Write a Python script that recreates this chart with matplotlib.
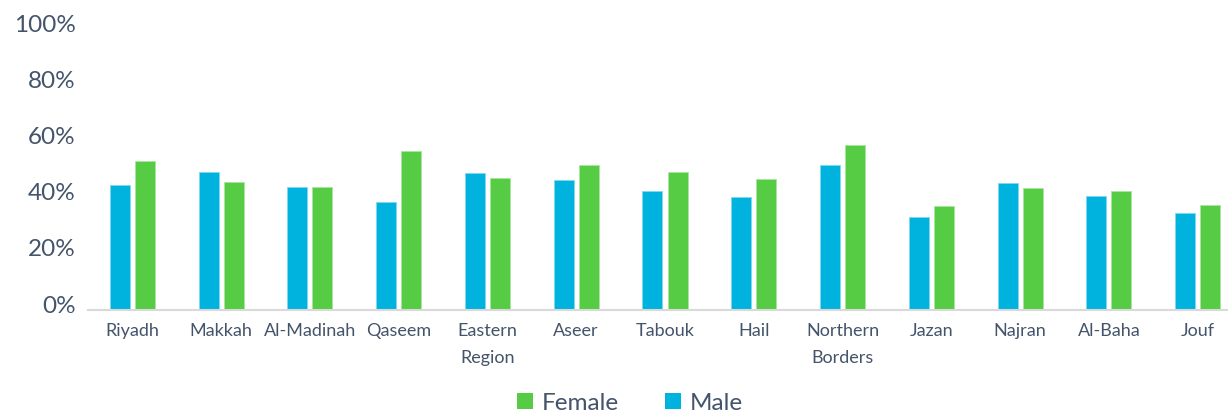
import matplotlib
matplotlib.use("Agg")
import matplotlib.pyplot as plt
import matplotlib.transforms as mtransforms
import numpy as np
from matplotlib.patches import Patch

categories = ["Riyadh", "Makkah", "Al-Madinah", "Qaseem", "Eastern\nRegion", "Aseer",
              "Tabouk", "Hail", "Northern\nBorders", "Jazan", "Najran", "Al-Baha", "Jouf"]
male = [44.6, 49.1, 43.7, 38.4, 48.6, 46.3, 42.3, 40.2, 51.6, 33.0, 45.3, 40.7, 34.5]
female = [53.0, 45.4, 43.7, 56.7, 47.1, 51.6, 49.1, 46.5, 58.7, 36.9, 43.4, 42.5, 37.3]
yticks = [0, 20, 40, 60, 80, 100]

MALE_C = "#00B2DE"
FEMALE_C = "#55CC44"
TEXT_C = "#44546A"
plt.rcParams['font.family'] = ['Lato', 'DejaVu Sans']

W, H = 1228, 415
fig = plt.figure(figsize=(W/100, H/100), dpi=100)
# axes from x=88 to 1242 px, y from 310 (0%) to 29 (100%)
ax = fig.add_axes([88/W, (H-310)/H, 1154/W, (310-29)/H])

x = np.arange(len(categories))
bw = 0.225
off = 0.141
ax.bar(x - off, male, width=bw, color=MALE_C, edgecolor="#7FD8EE", linewidth=0.6, zorder=2)
ax.bar(x + off, female, width=bw, color=FEMALE_C, edgecolor="#A9E5A1", linewidth=0.6, zorder=2)

ax.set_xlim(-0.5, len(categories) - 0.5)
ax.set_ylim(0, 100)
ax.set_yticks(yticks)
ax.set_yticklabels([f"{v}%" for v in yticks], fontsize=17.5, color=TEXT_C)
ax.set_xticks(x)
ax.set_xticklabels(categories, fontsize=13, color=TEXT_C, linespacing=1.85, va="top")
ax.tick_params(axis="both", length=0)
ax.tick_params(axis="y", pad=9)
ax.tick_params(axis="x", pad=9)
for lab in ax.get_yticklabels():
    lab.set_transform(lab.get_transform() + mtransforms.ScaledTranslation(0, 6/100, fig.dpi_scale_trans))

for s in ["top", "right", "left"]:
    ax.spines[s].set_visible(False)
ax.spines["bottom"].set_color("#D9D9D9")
ax.spines["bottom"].set_linewidth(1.5)

handles = [Patch(facecolor=FEMALE_C, label="Female"), Patch(facecolor=MALE_C, label="Male")]
fig.legend(handles=handles, loc="center", bbox_to_anchor=(630/W, (H-403)/H), ncol=2,
           frameon=False, fontsize=17.5, labelcolor=TEXT_C, handlelength=0.66, handleheight=0.66,
           handletextpad=0.37, columnspacing=1.9, borderpad=0)

fig.savefig("out.png", dpi=100, facecolor="white")
